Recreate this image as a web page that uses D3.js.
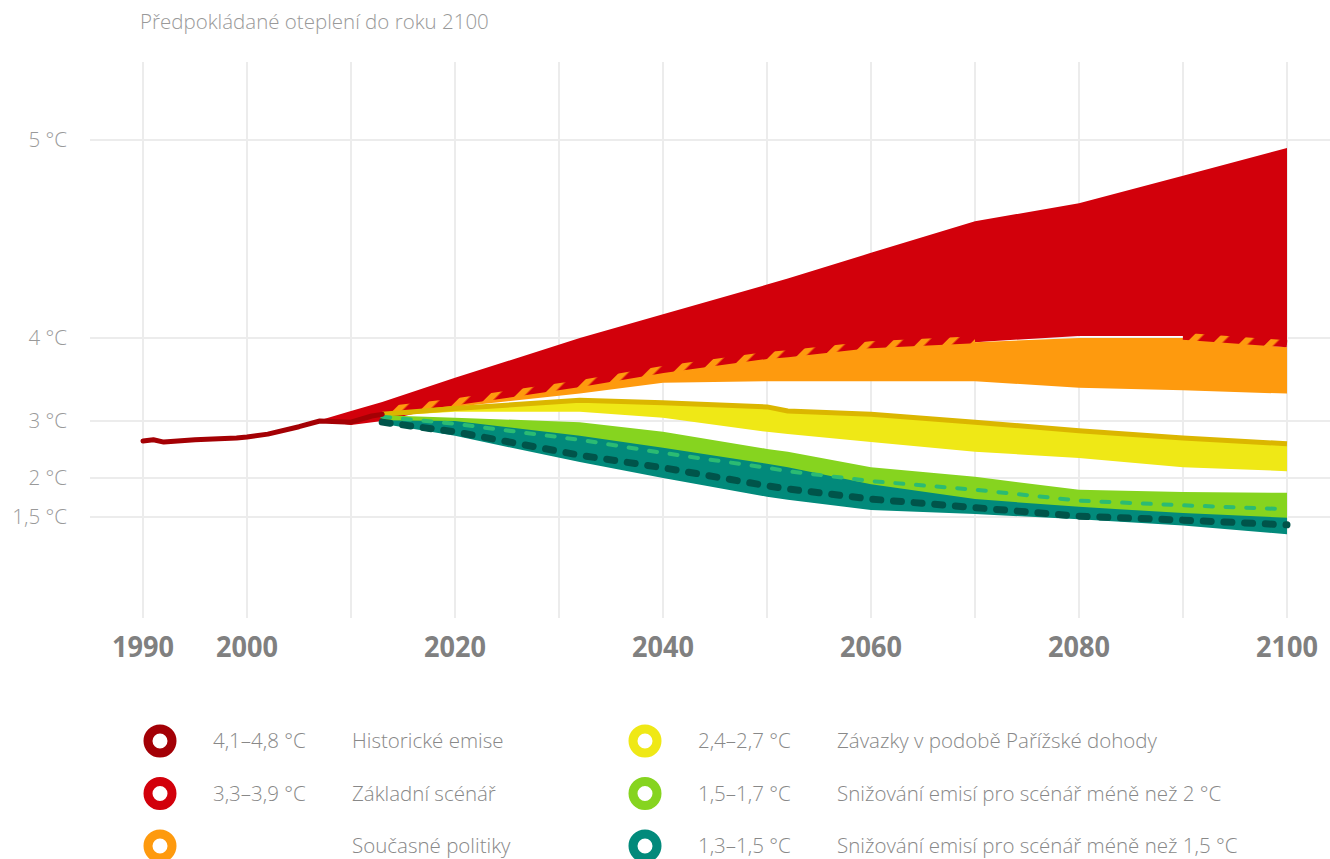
<!DOCTYPE html>
<html lang="cs">
  <head>
    <meta charset="UTF-8" />
    <title>Předpokládané oteplení do roku 2100</title>
    <script src="https://d3js.org/d3.v7.min.js"></script>
    <style>
      body { margin: 0; background: #fff; }
      text { font-family: "Open Sans", sans-serif; }
    </style>
  </head>
  <body>
    <div id="chart"></div>

    <script>
      // historical emissions line
      const histYears = [1990, 1991, 1992, 1995, 1999, 2000, 2002, 2005, 2007, 2010, 2012, 2013];
      const histValues = [2.65, 2.67, 2.63, 2.67, 2.7, 2.72, 2.77, 2.9, 3.0, 2.98, 3.06, 3.08];

      // baseline (red) band has its own start
      const redYears = [2007, 2010, 2013, 2020, 2032, 2040, 2050, 2052, 2060, 2070, 2080, 2090, 2100];
      const redHigh = [3.01, 3.12, 3.23, 3.52, 4.0, 4.12, 4.27, 4.3, 4.43, 4.59, 4.68, 4.82, 4.96];
      const redLow = [3.01, 2.93, 3.0, 3.2, 3.42, 3.59, 3.76, 3.78, 3.89, 3.95, 4.01, 4.01, 3.92];

      // projections share one set of years
      const years = [2013, 2020, 2032, 2040, 2050, 2052, 2060, 2070, 2080, 2090, 2100];
      const orangeHigh = [3.1, 3.2, 3.42, 3.59, 3.76, 3.78, 3.89, 3.95, 4.0, 4.0, 3.89];
      const orangeLow = [3.08, 3.17, 3.33, 3.46, 3.48, 3.48, 3.48, 3.48, 3.4, 3.37, 3.33];
      const yellowHigh = [3.08, 3.15, 3.25, 3.22, 3.17, 3.12, 3.08, 2.98, 2.83, 2.7, 2.6];
      const yellowLow = [3.06, 3.11, 3.11, 3.04, 2.81, 2.77, 2.63, 2.46, 2.35, 2.19, 2.12];
      const greenHigh = [3.07, 3.04, 2.98, 2.81, 2.51, 2.46, 2.19, 2.02, 1.85, 1.82, 1.81];
      const greenLow = [3.01, 2.93, 2.58, 2.39, 2.09, 2.05, 1.85, 1.72, 1.59, 1.53, 1.46];
      const tealHigh = [3.01, 3.0, 2.74, 2.53, 2.25, 2.19, 1.92, 1.73, 1.63, 1.55, 1.49];
      const tealLow = [2.95, 2.74, 2.28, 2.0, 1.76, 1.72, 1.59, 1.54, 1.47, 1.39, 1.28];
      const tealDash = [2.98, 2.81, 2.4, 2.18, 1.9, 1.86, 1.73, 1.62, 1.51, 1.46, 1.4];
      const greenDash = [3.05, 2.95, 2.67, 2.44, 2.18, 2.12, 1.96, 1.85, 1.71, 1.65, 1.6];
      // overlap of baseline and current policies (null = no overlap)
      const overlap = [3.1, 3.2, 3.42, 3.59, 3.76, 3.78, 3.89, 3.95, null, 3.99, 3.9];

      const yTicks = [1.5, 2, 3, 4, 5];
      const yTickLabels = ["1,5 °C", "2 °C", "3 °C", "4 °C", "5 °C"];
      const xLabels = [1990, 2000, 2020, 2040, 2060, 2080, 2100];
      const gridYears = d3.range(1990, 2101, 10);

      const legendColor = ["#a30006", "#d2000b", "#fe9a0e", "#efe816", "#86d41f", "#028a7b"];
      const legendRange = ["4,1–4,8 °C", "3,3–3,9 °C", "", "2,4–2,7 °C", "1,5–1,7 °C", "1,3–1,5 °C"];
      const legendName = [
        "Historické emise",
        "Základní scénář",
        "Současné politiky",
        "Závazky v podobě Pařížské dohody",
        "Snižování emisí pro scénář méně než 2 °C",
        "Snižování emisí pro scénář méně než 1,5 °C",
      ];

      const width = 1330, height = 859;

      const svg = d3
        .select("#chart")
        .append("svg")
        .attr("width", width)
        .attr("height", height);

      // x is linear in years, y is piecewise (uneven gridline spacing)
      const x = d3.scaleLinear().domain([1990, 2100]).range([143, 1287]);
      const y = d3
        .scaleLinear()
        .domain([0.25, 1.5, 2, 3, 4, 5, 5.4])
        .range([615, 517, 478, 421, 338, 140, 62]);

      // hatch pattern for the overlap
      const defs = svg.append("defs");
      const pat = defs
        .append("pattern")
        .attr("id", "hatch")
        .attr("patternUnits", "userSpaceOnUse")
        .attr("width", 19)
        .attr("height", 19)
        .attr("patternTransform", "rotate(45)");
      pat.append("rect").attr("width", 19).attr("height", 19).attr("fill", "#d2000b");
      pat.append("rect").attr("width", 6.5).attr("height", 19).attr("fill", "#fe9a0e");

      svg
        .append("text")
        .attr("x", 140)
        .attr("y", 29)
        .attr("font-size", 20.5)
        .attr("font-weight", 300)
        .attr("fill", "#999")
        .text("Předpokládané oteplení do roku 2100");

      // grid
      svg
        .append("g")
        .selectAll("line")
        .data(gridYears)
        .join("line")
        .attr("x1", (d) => x(d))
        .attr("x2", (d) => x(d))
        .attr("y1", y(5.4))
        .attr("y2", 618)
        .attr("stroke", "#ececec")
        .attr("stroke-width", 2);

      svg
        .append("g")
        .selectAll("line")
        .data(yTicks)
        .join("line")
        .attr("x1", 90)
        .attr("x2", width)
        .attr("y1", (d) => y(d))
        .attr("y2", (d) => y(d))
        .attr("stroke", "#ececec")
        .attr("stroke-width", 2);

      svg
        .append("g")
        .selectAll("text")
        .data(yTicks)
        .join("text")
        .attr("x", 67)
        .attr("y", (d) => y(d))
        .attr("dy", "0.35em")
        .attr("text-anchor", "end")
        .attr("font-size", 20.5)
        .attr("font-weight", 300)
        .attr("fill", "#999")
        .text((d, i) => yTickLabels[i]);

      svg
        .append("g")
        .selectAll("text")
        .data(xLabels)
        .join("text")
        .attr("x", (d) => x(d))
        .attr("y", 657)
        .attr("text-anchor", "middle")
        .attr("font-size", 29)
        .attr("font-weight", 700)
        .attr("fill", "#808080")
        .attr("textLength", 62)
        .attr("lengthAdjust", "spacingAndGlyphs")
        .text((d) => d);

      // bands
      function band(yrs, lo, hi, color) {
        const area = d3
          .area()
          .x((d, i) => x(yrs[i]))
          .y0((d, i) => y(lo[i]))
          .y1((d, i) => y(hi[i]));
        svg.append("path").datum(yrs).attr("d", area).attr("fill", color);
      }

      function line(yrs, vals, color, w, dash) {
        const gen = d3
          .line()
          .defined((d, i) => vals[i] != null)
          .x((d, i) => x(yrs[i]))
          .y((d, i) => y(vals[i]));
        const p = svg
          .append("path")
          .datum(yrs)
          .attr("d", gen)
          .attr("fill", "none")
          .attr("stroke", color)
          .attr("stroke-width", w)
          .attr("stroke-linejoin", "round");
        if (dash) p.attr("stroke-dasharray", dash).attr("stroke-linecap", "round");
        return p;
      }

      band(redYears, redLow, redHigh, "#d2000b");
      band(years, orangeLow, orangeHigh, "#fe9a0e");
      // hatch sits just above the orange edge
      line(years, overlap, "url(#hatch)", 7).attr("transform", "translate(0,-2.5)");
      band(years, yellowLow, yellowHigh, "#efe816");
      line(years, yellowHigh, "#dbb600", 5);
      band(years, greenLow, greenHigh, "#86d41f");
      band(years, tealLow, tealHigh, "#028a7b");
      line(years, greenDash, "#2bbb73", 4, "8,12.7");
      line(years, tealDash, "#00544a", 7, "8,12.7");
      line(histYears, histValues, "#a40004", 5).attr("stroke-linecap", "round");

      // legend
      const legend = svg
        .append("g")
        .selectAll("g")
        .data(legendName)
        .join("g")
        .attr("transform", (d, i) => `translate(${i < 3 ? 160 : 645},${741 + (i % 3) * 52.5})`);

      legend
        .append("circle")
        .attr("r", 12)
        .attr("fill", "#fff")
        .attr("stroke", (d, i) => legendColor[i])
        .attr("stroke-width", 9);

      legend
        .append("text")
        .attr("x", 53)
        .attr("dy", "0.35em")
        .attr("font-size", 20.5)
        .attr("font-weight", 300)
        .attr("fill", "#888")
        .text((d, i) => legendRange[i]);

      legend
        .append("text")
        .attr("x", 192)
        .attr("dy", "0.35em")
        .attr("font-size", 20.5)
        .attr("font-weight", 300)
        .attr("fill", "#888")
        .text((d) => d);
    </script>
  </body>
</html>
